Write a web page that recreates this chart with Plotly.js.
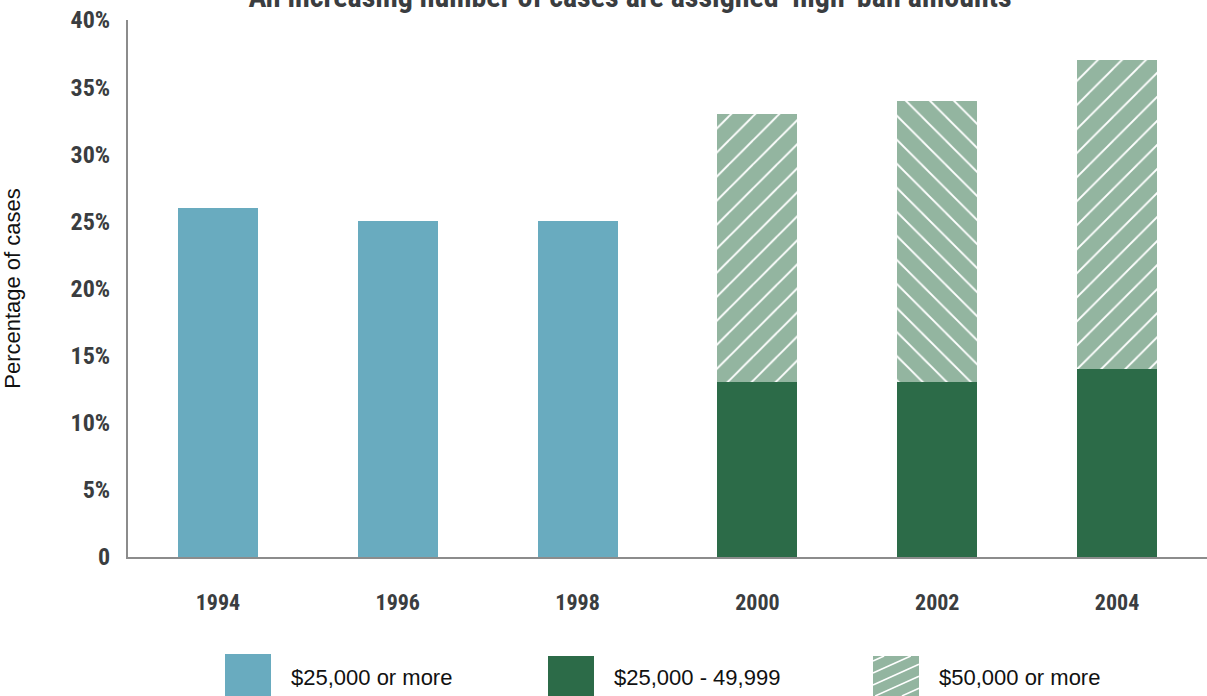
<!DOCTYPE html>
<html>
<head>
<meta charset="utf-8">
<script src="https://cdn.plot.ly/plotly-3.0.1.min.js"></script>
<style>html,body{margin:0;padding:0;background:#fff;}#chart{width:1207px;height:696px;}</style>
</head>
<body>
<div id="chart"></div>
<script>
var years = ["1994", "1996", "1998", "2000", "2002", "2004"];
var over25k = [26, 25, 25, null, null, null];
var from25to50k = [null, null, null, 13, 13, 14];
var over50k = [null, null, null, 20, 21, 23];
var hatchShapes = ["", "", "", "/", "\\", "/"];
var yTickVals = [0, 5, 10, 15, 20, 25, 30, 35, 40];
var yTickText = ["0", "5%", "10%", "15%", "20%", "25%", "30%", "35%", "40%"];
var legendNames = ["$25,000 or more", "$25,000 - 49,999", "$50,000 or more"];

var cBlue = "#69ABBF", cDark = "#2C6B48", cHatch = "#93B5A0";
var boldFont = '"Liberation Sans Narrow", "Roboto Condensed", Roboto, sans-serif';

var traces = [
  {type: "bar", x: years, y: over25k, name: legendNames[0], marker: {color: cBlue}, showlegend: false},
  {type: "bar", x: years, y: from25to50k, name: legendNames[1], marker: {color: cDark}, showlegend: false},
  {type: "bar", x: years, y: over50k, name: legendNames[2],
   marker: {color: cHatch, pattern: {shape: hatchShapes, bgcolor: cHatch, fgcolor: "#ffffff", size: 17, solidity: 0.11, fillmode: "replace"}},
   showlegend: false}
];

// custom legend geometry (page pixels -> paper coords)
var L = 128, R = 1207, T = 20, B = 557;
function px(x) { return (x - L) / (R - L); }
function py(y) { return (B - y) / (B - T); }
var sw = [{x: 225, t: 654}, {x: 548, t: 656}, {x: 873, t: 656}];
var swW = 46, swBot = 700;
var colors = [cBlue, cDark, cHatch];
var shapes = [], annotations = [];
for (var i = 0; i < 3; i++) {
  shapes.push({type: "rect", xref: "paper", yref: "paper", x0: px(sw[i].x), x1: px(sw[i].x + swW), y0: py(swBot), y1: py(sw[i].t), fillcolor: colors[i], line: {width: 0}, layer: "above"});
  annotations.push({xref: "paper", yref: "paper", x: px(sw[i].x + swW + 18), y: py(677), xanchor: "left", yanchor: "middle", showarrow: false, text: legendNames[i], font: {family: '"Liberation Sans", Arial, sans-serif', size: 22, color: "#111"}});
}
// hatch lines inside third swatch
(function () {
  var x0 = sw[2].x, x1 = sw[2].x + swW, y0 = sw[2].t, y1 = 696, s = 0.45;
  for (var c = y0 + 5; c < y1 + s * swW; c += 12) {
    var xa = x0, ya = c;
    if (ya > y1) { xa = x0 + (c - y1) / s; ya = y1; }
    var xb = x1, yb = c - s * swW;
    if (yb < y0) { xb = x0 + (c - y0) / s; yb = y0; }
    if (xa >= xb) continue;
    shapes.push({type: "line", xref: "paper", yref: "paper", x0: px(xa), y0: py(ya), x1: px(xb), y1: py(yb), line: {color: "#ffffff", width: 1.5}, layer: "above"});
  }
})();

var layout = {
  width: 1207, height: 696,
  margin: {l: 128, r: 0, t: 20, b: 139},
  paper_bgcolor: "#ffffff", plot_bgcolor: "#ffffff",
  barmode: "stack", bargap: 0.555,
  title: {text: "An increasing number of cases are assigned \u2018high\u2019 bail amounts", xref: "container", yref: "container", x: 0.522, xanchor: "center", y: 0.99, yanchor: "bottom", font: {family: boldFont, size: 30, color: "#3a3d40", weight: "bold"}},
  xaxis: {type: "category", showline: true, linecolor: "#8c8c8c", linewidth: 2, showgrid: false, zeroline: false, ticks: "", ticklabelstandoff: 25, tickfont: {family: boldFont, size: 22, color: "#3a3d40", weight: "bold"}},
  yaxis: {range: [0, 40], tickvals: yTickVals, ticktext: yTickText, showline: true, linecolor: "#8c8c8c", linewidth: 2, showgrid: false, zeroline: false, ticks: "", ticklabelstandoff: 11, tickfont: {family: boldFont, size: 24, color: "#3a3d40", weight: "bold"},
    title: {text: "Percentage of cases", standoff: 66, font: {family: '"Liberation Sans", Arial, sans-serif', size: 22, color: "#111"}}},
  shapes: shapes,
  annotations: annotations
};

Plotly.newPlot("chart", traces, layout, {displayModeBar: false, staticPlot: true});
</script>
</body>
</html>
